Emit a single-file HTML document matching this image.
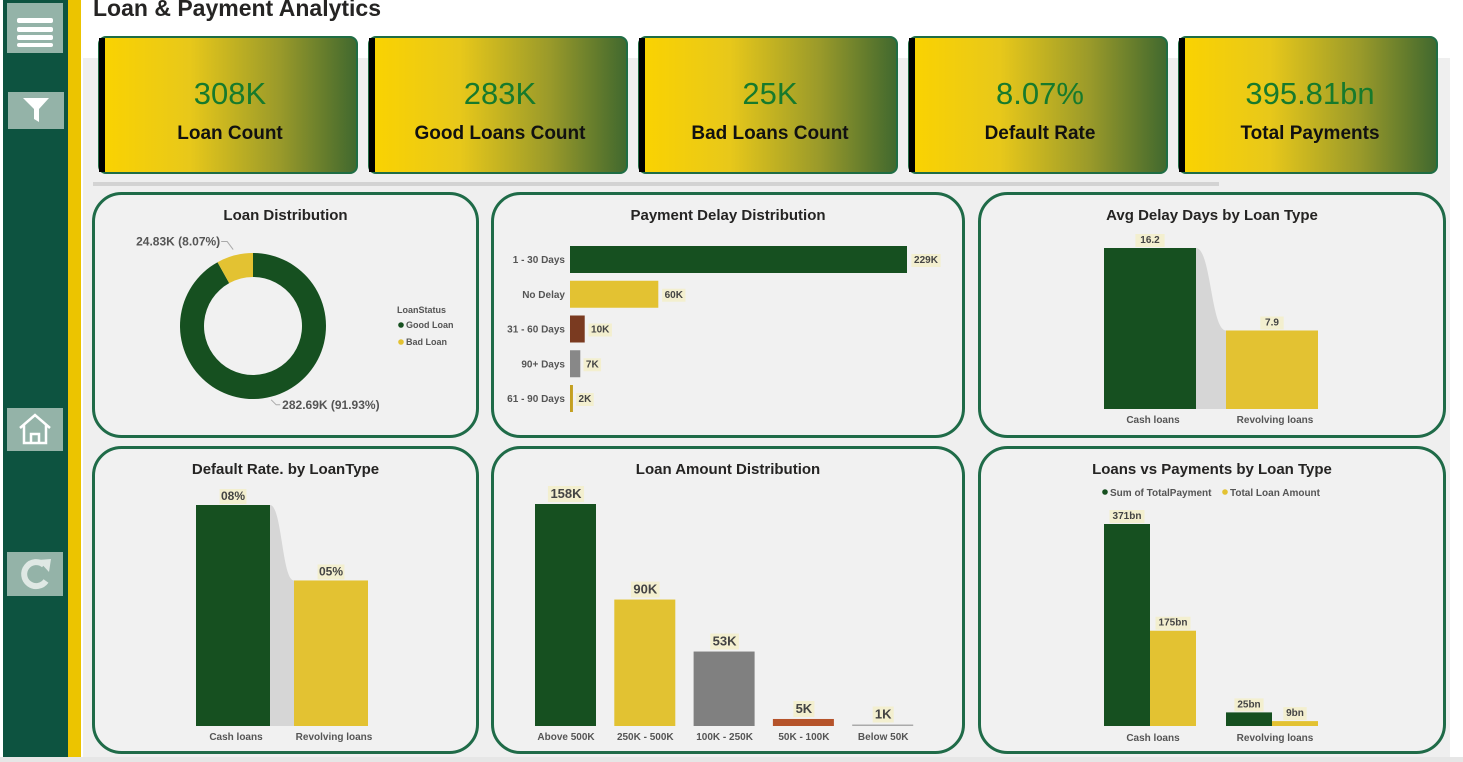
<!DOCTYPE html>
<html><head><meta charset="utf-8">
<style>
html,body{margin:0;padding:0;width:1463px;height:762px;overflow:hidden;background:#fff;font-family:"Liberation Sans",sans-serif}
svg text{font-family:"Liberation Sans",sans-serif}
</style></head>
<body>
<svg id="root" width="1463" height="762" viewBox="0 0 1463 762" xmlns="http://www.w3.org/2000/svg">
<defs>
<linearGradient id="kpiGrad" x1="0" x2="1" y1="0" y2="0">
<stop offset="0" stop-color="#fbd300"/><stop offset="0.35" stop-color="#e8c81a"/><stop offset="0.7" stop-color="#9a9a2a"/><stop offset="1" stop-color="#40682e"/>
</linearGradient>
</defs>
<rect x="0" y="0" width="1463" height="762" fill="#fff"/>
<rect x="83" y="58" width="1367" height="700" fill="#efefef"/>
<rect x="0" y="757" width="1463" height="5" fill="#e6e6e6"/>
<g>
<rect x="3" y="0" width="65" height="757" fill="#0d5340"/>
<rect x="68" y="0" width="13" height="757" fill="#ecc400"/>
<g>
<rect x="7" y="3" width="56" height="50" fill="#94b3a8"/>
<rect x="17" y="18" width="36" height="5" rx="2" fill="#fff"/><rect x="17" y="27" width="36" height="5" rx="2" fill="#fff"/><rect x="17" y="35" width="36" height="5" rx="2" fill="#fff"/><rect x="17" y="43" width="36" height="4" rx="2" fill="#fff"/>
</g>
<g>
<rect x="8" y="92" width="56" height="37" fill="#94b3a8"/>
<path d="M23 98 L49 98 L39 109 L39 122 L34 119 L34 109 Z" fill="#fff"/>
</g>
<g>
<rect x="7" y="408" width="56" height="43" fill="#94b3a8"/>
<path d="M20 428 L35 415 L50 428 M24 425 L24 443 L46 443 L46 425 M31 443 L31 434 L39 434 L39 443" stroke="#fff" stroke-width="2.5" fill="none"/>
</g>
<g>
<rect x="7" y="552" width="56" height="44" fill="#94b3a8"/>
<path d="M44 565 A12 12 0 1 0 46 581" stroke="#dfe8e4" stroke-width="6" fill="none"/>
<path d="M38 560 L51 559 L49 572 Z" fill="#dfe8e4"/>
</g>
</g>
<text x="93" y="16" font-size="23" font-weight="bold" fill="#252423">Loan &amp; Payment Analytics</text>
<g id="kpis"></g>
<rect x="93" y="182" width="1126" height="4" fill="#d3d3d3"/>
<g id="panels"></g>
<g id="charts"></g>
</svg>
<script>
const NS="http://www.w3.org/2000/svg";
function mk(tag,attrs,parent,txt){const e=document.createElementNS(NS,tag);for(const k in attrs)e.setAttribute(k,attrs[k]);if(txt!==undefined)e.textContent=txt;parent.appendChild(e);return e;}
const root=document.getElementById('charts');

const kpiValues=["308K","283K","25K","8.07%","395.81bn"];
const kpiLabels=["Loan Count","Good Loans Count","Bad Loans Count","Default Rate","Total Payments"];
const donutCats=["Good Loan","Bad Loan"];
const donutVals=[282.69,24.83];
const donutLabels=["282.69K (91.93%)","24.83K (8.07%)"];
const delayCats=["1 - 30 Days","No Delay","31 - 60 Days","90+ Days","61 - 90 Days"];
const delayVals=[229,60,10,7,2];
const delayLabels=["229K","60K","10K","7K","2K"];
const typeCats=["Cash loans","Revolving loans"];
const avgDelayVals=[16.2,7.9];
const avgDelayLabels=["16.2","7.9"];
const defaultVals=[8.2,5.4];
const defaultLabels=["08%","05%"];
const amountCats=["Above 500K","250K - 500K","100K - 250K","50K - 100K","Below 50K"];
const amountVals=[158,90,53,5,1];
const amountLabels=["158K","90K","53K","5K","1K"];
const paymentVals=[371,25];
const loanAmtVals=[175,9];
const paymentLabels=["371bn","25bn"];
const loanAmtLabels=["175bn","9bn"];

const kg=document.getElementById('kpis');
kpiValues.forEach((v,i)=>{
  const x=99+i*270;
  const g=mk('g',{},kg);
  
  
  mk('rect',{x:x,y:37,width:258,height:136,rx:7,fill:'url(#kpiGrad)',stroke:'#1f6d44','stroke-width':2},g);
  mk('rect',{x:x,y:38,width:6,height:134,fill:'#000'},g);
  const t=mk('text',{x:x+131,y:104,'text-anchor':'middle','font-size':31,fill:'#177a2c'},g,v);
  
  
  const l=mk('text',{x:x+131,y:139,'text-anchor':'middle','font-size':19,'font-weight':'bold',fill:'#111'},g,kpiLabels[i]);
  
  
});

const pg=document.getElementById('panels');
const panels=[
 [92,192,387,246,"Loan Distribution"],[491,192,474,246,"Payment Delay Distribution"],[978,192,468,246,"Avg Delay Days by Loan Type"],
 [92,446,387,308,"Default Rate. by LoanType"],[491,446,474,308,"Loan Amount Distribution"],[978,446,468,308,"Loans vs Payments by Loan Type"]];
panels.forEach(p=>{
  const g=mk('g',{},pg);
  
  
  mk('rect',{x:p[0]+1.5,y:p[1]+1.5,width:p[2]-3,height:p[3]-3,rx:28,fill:'#f1f1f1',stroke:'#1f6b48','stroke-width':3},g);
  const t=mk('text',{x:p[0]+p[2]/2,y:p[1]+28,'text-anchor':'middle','font-size':15,'font-weight':'bold',fill:'#252423'},g,p[4]);
  
  
});

function dataLabel(parent,x,y,txt,size){
  const w=txt.length*(size*0.58)+6;
  mk('rect',{x:x-w/2,y:y-size+1,width:w,height:size+3,fill:'#f3efcf'},parent);
  const t=mk('text',{x:x,y:y,'text-anchor':'middle','font-size':size,'font-weight':'bold',fill:'#444'},parent,txt);
  
  
}
function axisLabel(parent,x,y,txt,anchor){
  const t=mk('text',{x:x,y:y,'text-anchor':anchor||'middle','font-size':10,'font-weight':'bold',fill:'#555'},parent,txt);
  
  
}

(function(){
  const g=mk('g',{},root);
  const cx=253,cy=326,R=73,r=49,total=donutVals.reduce((a,b)=>a+b,0);
  const colors=['#165020','#e3c232'];
  function arcPath(a0,a1){
    const p=(a,rad)=>[cx+rad*Math.sin(a),cy-rad*Math.cos(a)];
    const large=(a1-a0)>Math.PI?1:0;
    const [x0,y0]=p(a0,R),[x1,y1]=p(a1,R),[x2,y2]=p(a1,r),[x3,y3]=p(a0,r);
    return `M${x0} ${y0} A${R} ${R} 0 ${large} 1 ${x1} ${y1} L${x2} ${y2} A${r} ${r} 0 ${large} 0 ${x3} ${y3} Z`;
  }
  const goodA=donutVals[0]/total*2*Math.PI;
  const s1=mk('path',{d:arcPath(0,goodA),fill:colors[0]},g);
  
  
  const s2=mk('path',{d:arcPath(goodA,2*Math.PI),fill:colors[1]},g);
  
  
  const midBad=(goodA+2*Math.PI)/2;
  const bx=cx+(R+6)*Math.sin(midBad), by=cy-(R+6)*Math.cos(midBad);
  mk('path',{d:`M${bx} ${by} L${bx-6} ${by-8} L${bx-12} ${by-8}`,stroke:'#aaa',fill:'none'},g);
  const l1=mk('text',{x:bx-13,y:by-4,'text-anchor':'end','font-size':12,'font-weight':'bold',fill:'#555'},g,donutLabels[1]);
  
  
  const aGood=2.9;
  const gx=cx+(R+3)*Math.sin(aGood), gy=cy-(R+3)*Math.cos(aGood);
  mk('path',{d:`M${gx} ${gy} L${gx+5} ${gy+5} L${gx+9} ${gy+5}`,stroke:'#aaa',fill:'none'},g);
  const l2=mk('text',{x:gx+11,y:gy+9,'font-size':12,'font-weight':'bold',fill:'#555'},g,donutLabels[0]);
  
  
  const lt=mk('text',{x:397,y:313,'font-size':9,'font-weight':'bold',fill:'#555'},g,'LoanStatus');
  
  
  donutCats.forEach((c,i)=>{
    const lg=mk('g',{},g);
    
    
    mk('circle',{cx:401,cy:325+i*17,r:2.8,fill:colors[i]},lg);
    mk('text',{x:406,y:328+i*17,'font-size':9,'font-weight':'bold',fill:'#555'},lg,c);
  });
})();

(function(){
  const g=mk('g',{},root);
  const x0=570, scale=337/229, colors=['#165020','#e3c232','#7a3a20','#888','#c4a020'];
  delayVals.forEach((v,i)=>{
    const cy=259+i*34.75, w=Math.max(v*scale,2);
    const b=mk('rect',{x:x0,y:cy-13,width:w,height:27,fill:colors[i]},g);
    
    
    axisLabel(g,565,cy+4,delayCats[i],'end');
    dataLabel(g,x0+w+5+delayLabels[i].length*3.5,cy+4,delayLabels[i],10);
  });
})();

function ribbonChart(vals,labels,x0,x1,w,base,topPx,fontSize){
  const g=mk('g',{},root);
  const max=Math.max(...vals), sc=topPx/max;
  const y=(v)=>base-v*sc;
  const xs=[x0,x1], colors=['#165020','#e3c232'];
  const ya=y(vals[0]), yb=y(vals[1]);
  const rx0=x0+w, rx1=x1, mid=(rx0+rx1)/2;
  const rb=mk('path',{d:`M${rx0} ${ya} C${mid} ${ya} ${mid} ${yb} ${rx1} ${yb} L${rx1} ${base} L${rx0} ${base} Z`,fill:'#d6d6d6'},g);
  
  
  vals.forEach((v,i)=>{
    const b=mk('rect',{x:xs[i],y:y(v),width:w,height:v*sc,fill:colors[i]},g);
    
    
    dataLabel(g,xs[i]+w/2,y(v)-5,labels[i],fontSize);
    axisLabel(g,xs[i]+w/2+3,base+14,typeCats[i]);
  });
}
ribbonChart(avgDelayVals,avgDelayLabels,1104,1226,92,409,161,10);
ribbonChart(defaultVals,defaultLabels,196,294,74,726,221,12);

(function(){
  const g=mk('g',{},root);
  const base=726, sc=222/158, colors=['#165020','#e2c232','#808080','#b5532a','#aaa'];
  amountVals.forEach((v,i)=>{
    const x=535+i*79.3, h=Math.max(v*sc,1.5);
    const b=mk('rect',{x:x,y:base-h,width:61,height:h,fill:colors[i]},g);
    
    
    dataLabel(g,x+31,base-h-6,amountLabels[i],13);
    axisLabel(g,x+31,base+14,amountCats[i]);
  });
})();

(function(){
  const g=mk('g',{},root);
  const base=726, sc=202/371, gx=[1104,1226];
  const lgd=[['Sum of TotalPayment','#165020',1103],['Total Loan Amount','#e3c232',1223]];
  lgd.forEach(l=>{
    const e=mk('g',{},g);
    
    
    mk('circle',{cx:l[2]+2,cy:492,r:2.8,fill:l[1]},e);
    mk('text',{x:l[2]+7,y:496,'font-size':10,'font-weight':'bold',fill:'#555'},e,l[0]);
  });
  typeCats.forEach((c,i)=>{
    const hp=paymentVals[i]*sc, hl=loanAmtVals[i]*sc;
    const b1=mk('rect',{x:gx[i],y:base-hp,width:46,height:hp,fill:'#165020'},g);
    
    
    const b2=mk('rect',{x:gx[i]+46,y:base-hl,width:46,height:hl,fill:'#e3c232'},g);
    
    
    dataLabel(g,gx[i]+23,base-hp-5,paymentLabels[i],10);
    dataLabel(g,gx[i]+69,base-hl-5,loanAmtLabels[i],10);
    axisLabel(g,gx[i]+49,base+15,c);
  });
})();
</script>
</body></html>
